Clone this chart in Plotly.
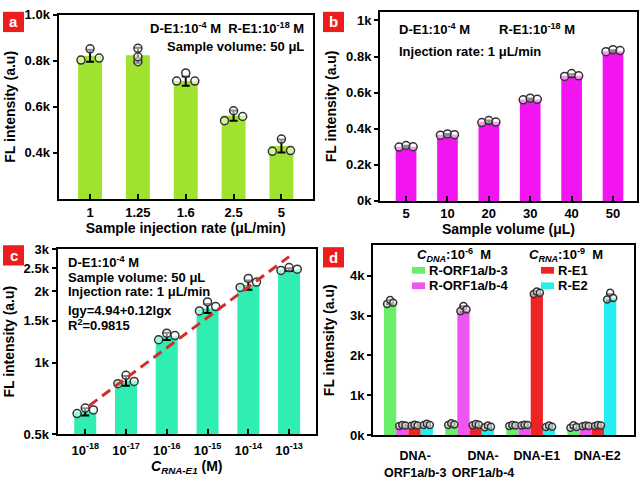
import plotly.graph_objects as go

# ---------------- data ----------------
# (a) sample injection rate
a_rates = ['1', '1.25', '1.6', '2.5', '5']
a_means = [822, 824, 712, 562, 430]
a_err = [26, 33, 20, 22, 28]
a_reps = [[803, 852, 812], [796, 854, 817], [712, 747, 712], [540, 583, 558], [407, 460, 410]]
a_yticks = [400, 600, 800, 1000]
a_yticktext = ['0.4k', '0.6k', '0.8k', '1.0k']

# (b) sample volume
b_volumes = ['5', '10', '20', '30', '40', '50']
b_means = [300, 366, 438, 562, 694, 830]
b_err = [6, 5, 7, 5, 8, 5]
b_reps = [[298, 307, 300], [364, 371, 367], [434, 445, 437], [560, 569, 563], [690, 706, 693], [827, 838, 833]]
b_yticks = [0, 200, 400, 600, 800, 1000]
b_yticktext = ['0k', '0.2k', '0.4k', '0.6k', '0.8k', '1k']

# (c) RNA-E1 concentration
c_conc = ['10<sup>-18</sup>', '10<sup>-17</sup>', '10<sup>-16</sup>', '10<sup>-15</sup>', '10<sup>-14</sup>', '10<sup>-13</sup>']
c_means = [622, 840, 1290, 1690, 2120, 2460]
c_err = [22, 40, 45, 75, 95, 35]
c_reps = [[611, 645, 633], [816, 885, 834], [1248, 1330, 1300], [1650, 1800, 1720], [2070, 2260, 2180], [2440, 2510, 2470]]
c_fit_pos = [0.1, 5.0]
c_fit_y = [660, 2790]
c_yticks = [500, 1000, 1500, 2000, 2500, 3000]
c_yticktext = ['0.5k', '1k', '1.5k', '2k', '2.5k', '3k']

# (d) specificity
d_targets = ['DNA-<br>ORF1a/b-3', 'DNA-<br>ORF1a/b-4', 'DNA-E1', 'DNA-E2']
d_series = ['R-ORF1a/b-3', 'R-ORF1a/b-4', 'R-E1', 'R-E2']
d_orf3 = [3330, 275, 245, 215]
d_orf4 = [245, 3160, 255, 235]
d_e1 = [248, 265, 3570, 245]
d_e2 = [265, 220, 222, 3450]
d_orf3_err = [50, 30, 20, 40]
d_orf4_err = [20, 70, 20, 20]
d_e1_err = [20, 20, 40, 20]
d_e2_err = [25, 30, 25, 80]
d_orf3_reps = [[3290, 3390, 3320], [260, 300, 270], [230, 255, 245], [190, 250, 210]]
d_orf4_reps = [[230, 260, 245], [3110, 3240, 3150], [245, 265, 255], [225, 245, 235]]
d_e1_reps = [[240, 265, 245], [250, 285, 265], [3540, 3600, 3570], [235, 260, 245]]
d_e2_reps = [[255, 290, 255], [200, 245, 215], [205, 245, 215], [3400, 3570, 3440]]
d_yticks = [0, 1000, 2000, 3000, 4000]
d_yticktext = ['0k', '1k', '2k', '3k', '4k']

# ---------------- style ----------------
W, H = 640, 480
FONT = 'Liberation Sans, Arial, sans-serif'
COL_A = '#9fe22f'
COL_B = '#f215f2'
COL_C = '#30eeb2'
COL_D = ['#6aee6a', '#ef55ef', '#ee2424', '#26eeee']
PT_LINE = '#333333'
A_JIT = [[-0.19, 0, 0.19], [0, 0, 0], [-0.19, 0, 0.19], [-0.19, 0, 0.19], [-0.19, 0, 0.19]]
B_JIT = [-0.17, 0, 0.17]
C_JIT = [-0.2, 0, 0.2]
D_JIT = [-0.05, 0, 0.05]
D_BARW = 0.2
D_LABEL_SHIFT = [0.11, 0.22, 0.10, 0.09]


def fx(p):
    return p / W


def fy(p):
    return 1 - p / H


def err(arr):
    return dict(type='data', array=arr, color='black', thickness=2, width=4)


def pts(x, y, xa, ya, size=8):
    return go.Scatter(x=x, y=y, mode='markers', xaxis=xa, yaxis=ya, showlegend=False,
                      marker=dict(symbol='circle', size=size, color='rgba(255,255,255,0.55)',
                                  line=dict(color=PT_LINE, width=1.5)))


fig = go.Figure()

# panel a
fig.add_trace(go.Bar(x=list(range(len(a_rates))), y=a_means, width=0.5, marker_color=COL_A,
                     marker_line_width=0, error_y=err(a_err), xaxis='x', yaxis='y', showlegend=False))
for i, reps in enumerate(a_reps):
    fig.add_trace(pts([i + j for j in A_JIT[i]], reps, 'x', 'y'))

# panel b
fig.add_trace(go.Bar(x=list(range(len(b_volumes))), y=b_means, width=0.5, marker_color=COL_B,
                     marker_line_width=0, error_y=err(b_err), xaxis='x2', yaxis='y2', showlegend=False))
for i, reps in enumerate(b_reps):
    fig.add_trace(pts([i + j for j in B_JIT], reps, 'x2', 'y2'))

# panel c
fig.add_trace(go.Bar(x=list(range(len(c_conc))), y=c_means, width=0.54, marker_color=COL_C,
                     marker_line_width=0, error_y=err(c_err), xaxis='x3', yaxis='y3', showlegend=False))
for i, reps in enumerate(c_reps):
    fig.add_trace(pts([i + j for j in C_JIT], reps, 'x3', 'y3'))
fig.add_trace(go.Scatter(x=c_fit_pos, y=c_fit_y, mode='lines', xaxis='x3', yaxis='y3', showlegend=False,
                         line=dict(color='#d42b2b', width=3, dash='10px,6px')))

# panel d
d_vals = [d_orf3, d_orf4, d_e1, d_e2]
d_errs = [d_orf3_err, d_orf4_err, d_e1_err, d_e2_err]
d_reps = [d_orf3_reps, d_orf4_reps, d_e1_reps, d_e2_reps]
for s in range(len(d_series)):
    off = (s - 1.5) * D_BARW
    xs = [g + off for g in range(len(d_targets))]
    fig.add_trace(go.Bar(x=xs, y=d_vals[s], width=D_BARW, marker_color=COL_D[s], marker_line_width=0,
                         error_y=err(d_errs[s]), name=d_series[s], xaxis='x4', yaxis='y4',
                         showlegend=False))
for s in range(len(d_series)):
    off = (s - 1.5) * D_BARW
    for g in range(len(d_targets)):
        fig.add_trace(pts([g + off + j for j in D_JIT], d_reps[s][g], 'x4', 'y4', size=7))

tick_font = dict(family=FONT, size=13, color='black', weight='bold')
title_font = dict(family=FONT, size=14, color='black', weight='bold')
axis_common = dict(showline=True, linewidth=2, linecolor='black', mirror=True, showgrid=False,
                   zeroline=False, tickwidth=2, tickcolor='black')

fig.update_layout(
    width=W, height=H, margin=dict(l=0, r=0, t=0, b=0),
    paper_bgcolor='white', plot_bgcolor='white',
    font=dict(family=FONT, size=13, color='black', weight='bold'),
    barmode='overlay', showlegend=False,
    xaxis=dict(domain=[fx(58.5), fx(313)], range=[-0.66, 4.66], tickmode='array',
               tickvals=list(range(len(a_rates))), ticktext=a_rates, ticks='inside', ticklen=5,
               tickfont=tick_font,
               title=dict(text='Sample injection rate (μL/min)', font=title_font, standoff=3),
               anchor='y', **axis_common),
    yaxis=dict(domain=[fy(199), fy(8)], range=[200, 1000], tickmode='array', tickvals=a_yticks,
               ticktext=a_yticktext, ticks='outside', ticklen=4, tickfont=tick_font,
               title=dict(text='FL intensity (a.u)', font=title_font, standoff=6),
               anchor='x', **axis_common),
    xaxis2=dict(domain=[fx(380), fx(637)], range=[-0.63, 5.58], tickmode='array',
                tickvals=list(range(len(b_volumes))), ticktext=b_volumes, ticks='inside', ticklen=5,
                tickfont=tick_font,
                title=dict(text='Sample volume (μL)', font=title_font, standoff=3),
                anchor='y2', **axis_common),
    yaxis2=dict(domain=[fy(201), fy(5)], range=[0, 1048], tickmode='array', tickvals=b_yticks,
                ticktext=b_yticktext, ticks='outside', ticklen=4, tickfont=tick_font,
                title=dict(text='FL intensity (a.u)', font=title_font, standoff=6),
                anchor='x2', **axis_common),
    xaxis3=dict(domain=[fx(57.5), fx(316)], range=[-0.68, 5.66], tickmode='array',
                tickvals=list(range(len(c_conc))), ticktext=c_conc, ticks='inside', ticklen=5,
                tickfont=tick_font, ticklabelstandoff=3,
                title=dict(text='<i>C<sub>RNA-E1</sub></i> (M)', font=title_font, standoff=0),
                anchor='y3', **axis_common),
    yaxis3=dict(domain=[fy(443), fy(251)], type='log', range=[2.69897, 3.4771], tickmode='array',
                tickvals=c_yticks, ticktext=c_yticktext, ticks='outside', ticklen=4, tickfont=tick_font,
                title=dict(text='FL intensity (a.u)', font=title_font, standoff=6),
                anchor='x3', **axis_common),
    xaxis4=dict(domain=[fx(373), fx(634)], range=[-0.58, 3.69], tickmode='array',
                tickvals=[g + D_LABEL_SHIFT[g] for g in range(len(d_targets))], ticktext=d_targets,
                ticks='', tickangle=0, ticklabelstandoff=8,
                tickfont=dict(family=FONT, size=12.5, color='black', weight='bold'),
                anchor='y4', **axis_common),
    yaxis4=dict(domain=[fy(444), fy(247)], range=[0, 4760], tickmode='array', tickvals=d_yticks,
                ticktext=d_yticktext, ticks='outside', ticklen=4, tickfont=tick_font,
                title=dict(text='FL intensity (a.u)', font=title_font, standoff=12),
                anchor='x4', **axis_common),
)

ann_font = dict(family=FONT, size=13, color='black', weight='bold')


def note(text, x, y, xanchor='left'):
    fig.add_annotation(text=text, x=fx(x), y=fy(y), xref='paper', yref='paper', showarrow=False,
                       xanchor=xanchor, yanchor='middle', font=ann_font)


# panel a texts
note('D-E1:10<sup>-4</sup> M  R-E1:10<sup>-18</sup> M', 306, 22, 'right')
note('Sample volume: 50 μL', 306, 41, 'right')
# panel b texts
note('D-E1:10<sup>-4</sup> M', 397, 23)
note('R-E1:10<sup>-18</sup> M', 497, 23)
note('Injection rate: 1 μL/min', 397, 46)
# panel c texts
note('D-E1:10<sup>-4</sup> M', 66, 264)
note('Sample volume: 50 μL', 66, 280)
note('Injection rate: 1 μL/min', 66, 295)
note('lgy=4.94+0.12lgx', 66, 315)
note('R<sup>2</sup>=0.9815', 66, 330)
# panel d headers
note('<i>C<sub>DNA</sub></i>:10<sup>-6</sup>  M', 454, 257, 'center')
note('<i>C<sub>RNA</sub></i>:10<sup>-9</sup>  M', 566, 257, 'center')

# panel d manual legend
leg_pos = [(412, 273), (412, 289), (541, 273), (541, 289)]
for s, (lx, ly) in enumerate(leg_pos):
    fig.add_shape(type='rect', xref='paper', yref='paper', x0=fx(lx), x1=fx(lx + 13),
                  y0=fy(ly + 3.5), y1=fy(ly - 3.5), fillcolor=COL_D[s], line=dict(width=0))
    note(d_series[s], lx + 15, ly)

# panel labels
for lab, (lx, ly) in zip(['a', 'b', 'c', 'd'], [(3, 5), (323, 5), (3, 247), (323, 249)]):
    fig.add_shape(type='rect', xref='paper', yref='paper', x0=fx(lx), x1=fx(lx + 21),
                  y0=fy(ly + 21), y1=fy(ly), fillcolor='#ee1c1c', line=dict(width=0))
    fig.add_annotation(text=lab, x=fx(lx + 10.5), y=fy(ly + 10.5), xref='paper', yref='paper',
                       showarrow=False, xanchor='center', yanchor='middle',
                       font=dict(family=FONT, size=15, color='white', weight='bold'))

fig.write_html('out.html', config={'displayModeBar': False},
               post_script="document.body.style.margin='0';document.body.style.overflow='hidden';")
